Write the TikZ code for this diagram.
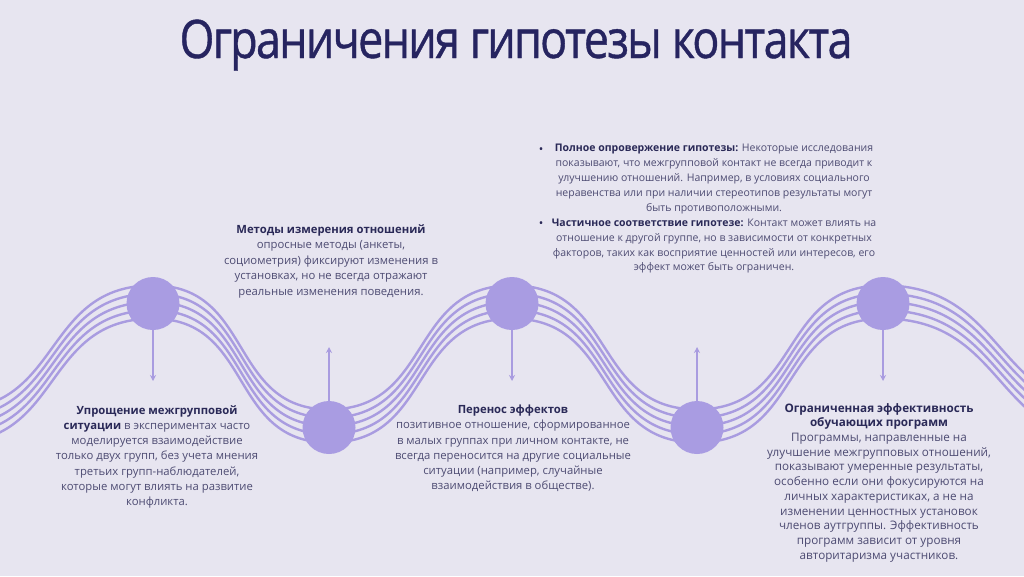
\documentclass[tikz,border=0pt]{standalone}
\usepackage{fontspec}
\setmainfont{Open Sans}
\newfontfamily\titlefont[LetterSpace=-4, FakeBold=0.8]{Open Sans}
\usetikzlibrary{arrows.meta}
\definecolor{bg}{HTML}{E7E5F0}
\definecolor{wave}{HTML}{A99CE0}
\definecolor{circ}{HTML}{A99CE2}
\definecolor{titlec}{HTML}{262460}
\definecolor{headc}{HTML}{2A2957}
\definecolor{bodyc}{HTML}{4D4B72}
\tikzset{
  waveline/.style={draw=wave, line width=2.4pt},
  dot/.style={circle, fill=circ, minimum size=53pt, inner sep=0pt},
  arr/.style={draw=wave, line width=1.6pt, -{Stealth[length=6pt,width=6pt]}},
  txt/.style={align=center, inner sep=0pt, anchor=north, text=bodyc},
  bul/.style={text=headc, inner sep=0pt, font=\fontsize{12}{12}\selectfont},
}
\newcommand{\hb}[1]{\textbf{\color{headc}#1}}
\begin{document}
\begin{tikzpicture}[x=1pt,y=-1pt]
\fill[bg] (0,0) rectangle (1024,576);
\useasboundingbox (0,0) rectangle (1024,576);

% title
\node[anchor=base, text=titlec, inner sep=0pt] (title) at (516,58)
  {\resizebox{673pt}{\height}{\titlefont\fontsize{53}{60}\selectfont Ограничения гипотезы контакта}};

% waves
\foreach \d in {-16.6,-8.3,0,8.3,16.6}{
  \draw[waveline] (-48,426+\d) to[out=0,in=180,looseness=1.2] (153,302+\d)
     to[out=0,in=180,looseness=1.2] (329,426+\d)
     to[out=0,in=180,looseness=1.2] (512,302+\d)
     to[out=0,in=180,looseness=1.2] (697,426+\d)
     to[out=0,in=180,looseness=1.2] (883,302+\d)
     to[out=0,in=180,looseness=1.2] (1117,426+\d);
}

% circles
\node[dot] (c1) at (153,303.5) {};
\node[dot] (c2) at (329,427.5) {};
\node[dot] (c3) at (512,303.5) {};
\node[dot] (c4) at (697,427.5) {};
\node[dot] (c5) at (883,303.5) {};

% arrows
\coordinate (a1) at (153,381);
\coordinate (a2) at (329,347);
\coordinate (a3) at (512,381);
\coordinate (a4) at (697,347);
\coordinate (a5) at (883,381);
\draw[arr] (c1.south) -- (a1);
\draw[arr] (c2.north) -- (a2);
\draw[arr] (c3.south) -- (a3);
\draw[arr] (c4.north) -- (a4);
\draw[arr] (c5.south) -- (a5);

% top-right block
\node[txt, font=\fontsize{10.5}{14.9}\selectfont] (t1) at (714,144) {%
\hb{Полное опровержение гипотезы:} Некоторые исследования\\
показывают, что межгрупповой контакт не всегда приводит к\\
улучшению отношений. Например, в условиях социального\\
неравенства или при наличии стереотипов результаты могут\\
быть противоположными.\\
\hb{Частичное соответствие гипотезе:} Контакт может влиять на\\
отношение к другой группе, но в зависимости от конкретных\\
факторов, таких как восприятие ценностей или интересов, его\\
эффект может быть ограничен.};
\node[bul] (b1) at (541,151) {•};
\node[bul] (b2) at (541,225) {•};

% Methods block
\node[txt, font=\fontsize{11.3}{15.5}\selectfont] (t2) at (331,224) {%
\hb{Методы измерения отношений}\\
опросные методы (анкеты,\\
социометрия) фиксируют изменения в\\
установках, но не всегда отражают\\
реальные изменения поведения.};

% bottom-left block
\node[txt, font=\fontsize{11.3}{15.3}\selectfont] (t3) at (157,405) {%
\hb{Упрощение межгрупповой}\\
\hb{ситуации} в экспериментах часто\\
моделируется взаимодействие\\
только двух групп, без учета мнения\\
третьих групп-наблюдателей,\\
которые могут влиять на развитие\\
конфликта.};

% bottom-middle block
\node[txt, font=\fontsize{11.3}{15.2}\selectfont] (t4) at (513,405) {%
\hb{Перенос эффектов}\\
позитивное отношение, сформированное\\
в малых группах при личном контакте, не\\
всегда переносится на другие социальные\\
ситуации (например, случайные\\
взаимодействия в обществе).};

% bottom-right block
\node[txt, font=\fontsize{11.7}{14.7}\selectfont] (t5) at (879,403) {%
\hb{Ограниченная эффективность}\\
\hb{обучающих программ}\\
Программы, направленные на\\
улучшение межгрупповых отношений,\\
показывают умеренные результаты,\\
особенно если они фокусируются на\\
личных характеристиках, а не на\\
изменении ценностных установок\\
членов аутгруппы. Эффективность\\
программ зависит от уровня\\
авторитаризма участников.};
\end{tikzpicture}
\end{document}
